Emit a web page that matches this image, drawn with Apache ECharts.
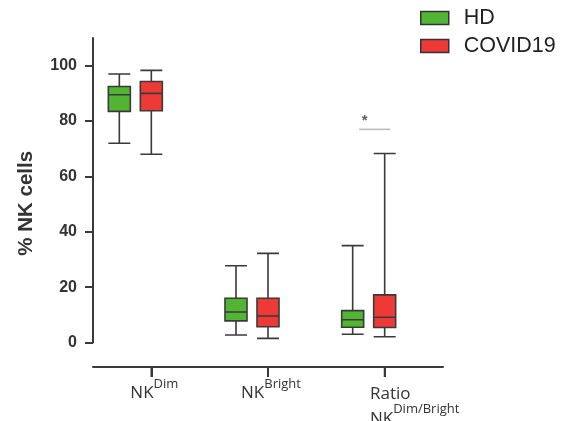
<!DOCTYPE html>
<html>
<head>
<meta charset="utf-8">
<script src="https://cdn.jsdelivr.net/npm/echarts@6/dist/echarts.min.js"></script>
<style>
html,body{margin:0;padding:0;background:#fff;}
#c{width:576px;height:421px;}
</style>
</head>
<body>
<div id="c"></div>
<script>
// ---- data ----
var categories = ['NK Dim', 'NK Bright', 'Ratio NK Dim/Bright'];
var labelMain = ['NK', 'NK', 'Ratio\nNK'];
var labelSup = ['Dim', 'Bright', 'Dim/Bright'];
var seriesNames = ['HD', 'COVID19'];
var seriesColors = ['#52B433', '#EE3A36'];
// [min, Q1, median, Q3, max]
var hdValues = [
  [72, 83.5, 89.5, 92.5, 97],
  [2.7, 7.8, 11, 16, 27.7],
  [3, 5.5, 8.2, 11.5, 35]
];
var covidValues = [
  [68, 83.7, 90, 94.3, 98.3],
  [1.5, 5.7, 9.6, 16, 32.2],
  [2.1, 5.4, 9.1, 17.2, 68.3]
];
var yTicks = [0, 20, 40, 60, 80, 100];
var sigCategory = 'Ratio NK Dim/Bright';
var sigLevel = 77;
var sigText = '*';

// ---- chart ----
var chart = echarts.init(document.getElementById('c'), null, {renderer: 'canvas'});
var TOP = 38, BOTTOM = 78.5, XBOTTOM = 54;
var AX = '#3a3a3a';
var shiftRed = 0, shiftGreen = -32;
var L0 = 93, R0 = 133;
var catIdx = categories.map(function (c, i) { return i; });

function labelFmt(v) {
  var i = Math.round(v);
  if (i < 0 || i >= categories.length) return '';
  var lines = labelMain[i].split('\n');
  var last = lines.pop();
  if (lines.length) {
    var pre = lines.map(function (l) { return '{sp3|}{b3|' + l + '}\n'; }).join('');
    return pre + '{sp3|}{b3|' + last + '}{s3|' + labelSup[i] + '}';
  }
  return '{sp|}{b|' + last + '}{s|' + labelSup[i] + '}';
}

function gridAt(shift, bottom) {
  return {left: L0 + shift, right: R0 - shift, top: TOP, bottom: bottom, containLabel: false, outerBoundsMode: 'none'};
}

var option = {
  animation: false,
  backgroundColor: '#fff',
  legend: {
    data: seriesNames.map(function (n, i) {
      return {name: n, itemStyle: {color: seriesColors[i], borderColor: '#333', borderWidth: 1.5}};
    }),
    orient: 'vertical',
    left: 415,
    top: 2,
    itemWidth: 28,
    itemHeight: 13,
    itemGap: 6,
    icon: 'rect',
    textStyle: {fontFamily: 'Liberation Sans', fontSize: 21.5, color: '#222', lineHeight: 21, padding: [0, 0, 0, 10]}
  },
  grid: [gridAt(0, BOTTOM), gridAt(shiftGreen, BOTTOM), gridAt(shiftRed, BOTTOM), gridAt(0, XBOTTOM)],
  xAxis: [
    {type: 'category', gridIndex: 0, data: categories, show: false},
    {type: 'category', gridIndex: 1, data: categories, show: false},
    {type: 'category', gridIndex: 2, data: categories, show: false},
    {
      type: 'value', gridIndex: 3, min: -0.5, max: 2.5, position: 'bottom',
      splitLine: {show: false},
      axisLine: {show: true, onZero: false, lineStyle: {color: AX, width: 2}},
      axisTick: {show: true, inside: false, customValues: catIdx, length: 10, lineStyle: {color: AX, width: 2}},
      axisLabel: {
        show: true,
        customValues: catIdx,
        margin: 11,
        formatter: labelFmt,
        color: '#333',
        rich: {
          sp: {width: 6},
          b: {fontFamily: 'Open Sans', fontSize: 17, color: '#333', lineHeight: 24, verticalAlign: 'bottom'},
          s: {fontFamily: 'Open Sans', fontSize: 13, color: '#333', lineHeight: 14, verticalAlign: 'top'},
          sp3: {width: 60, align: 'left'},
          b3: {fontFamily: 'Open Sans', fontSize: 17, color: '#333', lineHeight: 25, verticalAlign: 'bottom', align: 'left'},
          s3: {fontFamily: 'Open Sans', fontSize: 13, color: '#333', lineHeight: 14, verticalAlign: 'top', align: 'left'}
        }
      }
    }
  ],
  yAxis: [
    {
      type: 'value', gridIndex: 0, min: 0, max: 110,
      name: '% NK cells', nameLocation: 'middle', nameGap: 56,
      nameTextStyle: {fontFamily: 'Liberation Sans', fontSize: 20.5, fontWeight: 'bold', color: '#333', padding: [0, 26, 0, 0]},
      splitLine: {show: false},
      axisLine: {show: true, onZero: false, lineStyle: {color: AX, width: 2}},
      axisTick: {show: true, length: 8, customValues: yTicks, lineStyle: {color: AX, width: 2}},
      axisLabel: {customValues: yTicks, margin: 16, fontFamily: 'Liberation Sans', fontSize: 16, fontWeight: 'bold', color: '#333'}
    },
    {type: 'value', gridIndex: 1, min: 0, max: 110, show: false},
    {type: 'value', gridIndex: 2, min: 0, max: 110, show: false},
    {type: 'value', gridIndex: 3, min: 0, max: 110, show: false}
  ],
  series: [
    {
      name: 'HD', type: 'boxplot', xAxisIndex: 1, yAxisIndex: 1,
      boxWidth: [22, 22],
      data: hdValues,
      itemStyle: {color: seriesColors[0], borderColor: '#3a3a3a', borderWidth: 1.6},
      emphasis: {disabled: true}
    },
    {
      name: 'COVID19', type: 'boxplot', xAxisIndex: 2, yAxisIndex: 2,
      boxWidth: [22, 22],
      data: covidValues,
      itemStyle: {color: seriesColors[1], borderColor: '#3a3a3a', borderWidth: 1.6},
      emphasis: {disabled: true}
    },
    {
      name: 'sig', type: 'scatter', xAxisIndex: 2, yAxisIndex: 2,
      data: [[sigCategory, sigLevel]],
      symbol: 'rect', symbolSize: [31, 1.5], symbolOffset: [-10, 0],
      itemStyle: {color: '#aaa'},
      label: {show: true, formatter: sigText, position: 'top', distance: 0, offset: [-10, 0],
        fontFamily: 'Liberation Sans', fontSize: 15, fontWeight: 'bold', color: '#333'},
      emphasis: {disabled: true},
      silent: true
    },
    {
      name: 'xticks', type: 'scatter', xAxisIndex: 3, yAxisIndex: 3,
      data: catIdx.map(function (i) { return [i, 0]; }),
      symbol: 'rect', symbolSize: [2, 10], symbolOffset: [0, 5],
      itemStyle: {color: AX},
      clip: false,
      emphasis: {disabled: true},
      silent: true
    }
  ]
};
chart.setOption(option);
</script>
</body>
</html>
